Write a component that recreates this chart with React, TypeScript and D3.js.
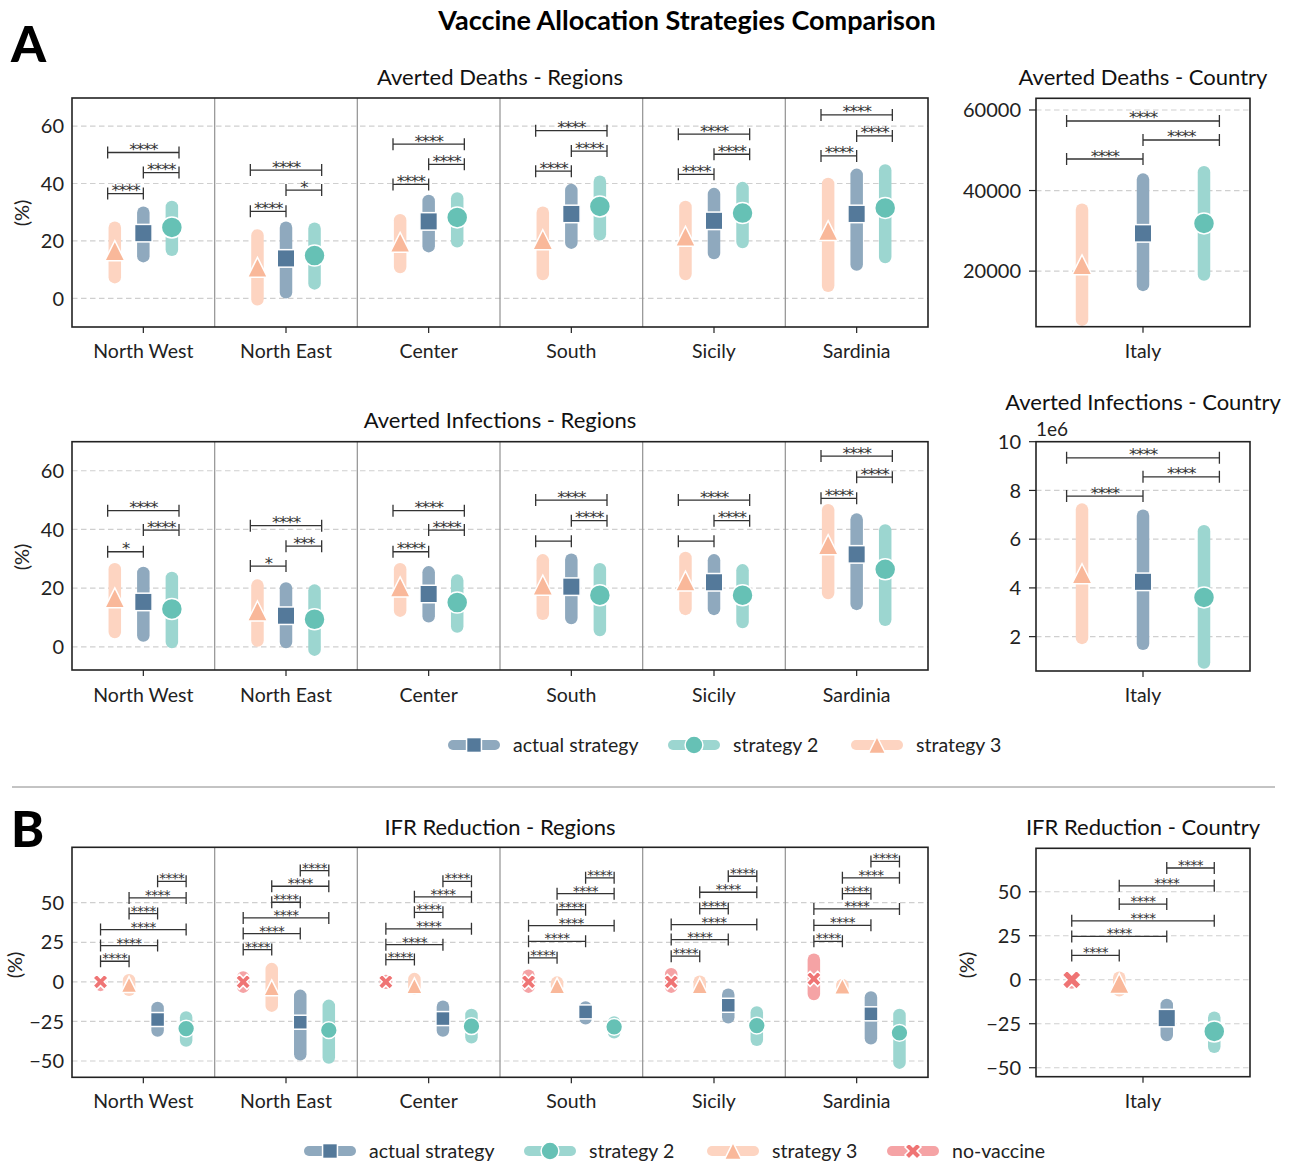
import { useEffect, useRef } from 'react'
import * as d3 from 'd3'

const W = 1297
const H = 1164
const FONT = 'Lato, "Open Sans", "DejaVu Sans", sans-serif'
const STAR_FONT = '"DejaVu Sans", sans-serif'

const REGIONS = ['North West', 'North East', 'Center', 'South', 'Sicily', 'Sardinia']
const COUNTRY = ['Italy']

// ── A: averted deaths by region (%) — [low, median, high] ──────────────────
const DEATHS_REG_ACTUAL = [[12.5, 22.7, 32.0], [-0.1, 13.9, 26.8], [16.0, 26.8, 36.1], [17.2, 29.4, 39.9], [13.6, 27.0, 38.5], [9.6, 29.4, 45.2]]
const DEATHS_REG_S2 = [[14.7, 24.7, 34.0], [3.0, 14.9, 26.4], [17.7, 28.2, 37.0], [20.1, 32.0, 42.8], [17.4, 29.7, 40.6], [12.2, 31.5, 46.7]]
const DEATHS_REG_S3 = [[5.2, 16.6, 26.8], [-2.5, 10.8, 24.1], [8.7, 19.5, 29.4], [6.3, 20.4, 32.0], [6.3, 21.6, 34.0], [2.2, 23.6, 42.0]]
// bracket heights: s3–actual, actual–s2, s3–s2
const DEATHS_REG_BRACKETS = [[36.5, 43.8, 50.8], [30.3, 37.7, 44.7], [39.7, 46.7, 53.7], [44.3, 51.3, 58.4], [43.2, 50.2, 57.2], [49.6, 56.6, 63.9]]
const DEATHS_REG_STARS = [['****', '****', '****'], ['****', '*', '****'], ['****', '****', '****'], ['****', '****', '****'], ['****', '****', '****'], ['****', '****', '****']]

// ── A: averted deaths, Italy ─────────────────────────────────────────────────
const DEATHS_IT_ACTUAL = [[15030, 29370, 44270]]
const DEATHS_IT_S2 = [[17590, 31850, 46090]]
const DEATHS_IT_S3 = [[6400, 21565, 36800]]
const DEATHS_IT_BRACKETS = [[47830, 52550, 57270]]
const DEATHS_IT_STARS = [['****', '****', '****']]

// ── A: averted infections by region (%) ──────────────────────────────────────
const INF_REG_ACTUAL = [[1.7, 15.3, 27.3], [-0.5, 10.6, 22.0], [8.3, 18.0, 27.5], [7.7, 20.5, 31.8], [10.8, 22.0, 31.6], [12.5, 31.5, 45.5]]
const INF_REG_S2 = [[-0.5, 12.9, 25.6], [-3.1, 9.4, 21.3], [4.8, 15.1, 24.7], [3.6, 17.6, 28.6], [6.3, 17.6, 28.2], [7.1, 26.4, 41.8]]
const INF_REG_S3 = [[2.9, 16.7, 28.6], [0, 12.2, 23.0], [10.2, 20.4, 28.6], [9.1, 21.0, 31.6], [10.8, 22.4, 32.4], [16.2, 34.8, 48.7]]
const INF_REG_BRACKETS = [[32.4, 39.8, 46.4], [27.5, 34.3, 41.3], [32.4, 39.8, 46.4], [36.0, 43.0, 50.0], [36.0, 43.0, 50.0], [50.6, 57.8, 65.0]]
const INF_REG_STARS = [['*', '****', '****'], ['*', '***', '****'], ['****', '****', '****'], ['', '****', '****'], ['', '****', '****'], ['****', '****', '****']]

// ── A: averted infections, Italy (×1e6) ─────────────────────────────────────
const INF_IT_ACTUAL = [[1.45, 4.25, 7.22]]
const INF_IT_S2 = [[0.68, 3.61, 6.58]]
const INF_IT_S3 = [[1.69, 4.58, 7.47]]
const INF_IT_BRACKETS = [[7.77, 8.56, 9.34]]
const INF_IT_STARS = [['****', '****', '****']]

// ── B: IFR reduction by region (%) ──────────────────────────────────────────
const IFR_REG_NV = [[-2, 0, 2], [-7, 0, 6.7], [-4.5, 0, 4.5], [-7, 0, 7.8], [-7, 0, 8.8], [-11.6, 1.9, 17.9]]
const IFR_REG_S3 = [[-9, -1.7, 5], [-19, -3.8, 12], [-8, -2.5, 5.7], [-7, -2.5, 3.5], [-7.5, -2.5, 4], [-7.2, -2.8, 1.9]]
const IFR_REG_ACTUAL = [[-34.7, -23.8, -12.6], [-49.7, -25.5, -4.9], [-34.7, -23.2, -11.8], [-27, -19, -12.2], [-26.3, -14.8, -4.2], [-39.6, -20.2, -5.9]]
const IFR_REG_S2 = [[-41, -29.5, -18.5], [-51.8, -30.5, -11.2], [-39, -28, -17], [-35.8, -28.4, -21.7], [-40.6, -27.6, -15.4], [-55, -32.2, -17]]
// bracket heights: nv–s3, nv–actual, nv–s2, s3–actual, s3–s2, actual–s2
const IFR_REG_BRACKETS = [[13.0, 22.9, 33.0, 43.1, 53.0, 63.5], [20.4, 30.5, 40.4, 50.3, 60.4, 70.3], [14.1, 23.5, 33.5, 43.9, 53.7, 63.5], [15.2, 25.6, 35.5, 45.6, 55.7, 65.7], [16.2, 26.7, 36.2, 46.3, 56.6, 66.7], [25.6, 35.7, 46.1, 55.7, 65.7, 76.1]]

// ── B: IFR reduction, Italy ──────────────────────────────────────────────────
const IFR_IT_NV = [[-2, 0, 2]]
const IFR_IT_S3 = [[-9.5, -2.1, 4.7]]
const IFR_IT_ACTUAL = [[-35, -21.8, -10.8]]
const IFR_IT_S2 = [[-41.7, -29.4, -18]]
const IFR_IT_BRACKETS = [[13.8, 24.6, 33.5, 43.0, 53.4, 63.5]]
const IFR_STAR = '****'

const STYLE = {
  actual: { mark: '#54799a', bar: '#8fa9be', shape: 'square', label: 'actual strategy' },
  s2: { mark: '#66c1b5', bar: '#9cd6d0', shape: 'circle', label: 'strategy 2' },
  s3: { mark: '#f9b89a', bar: '#fdd4c1', shape: 'triangle', label: 'strategy 3' },
  nv: { mark: '#ef7474', bar: '#f5a3a5', shape: 'cross', label: 'no-vaccine' },
}

const BAR_W = 12.5
const CAP = 6
const minus = (d) => (d < 0 ? `\u2212${Math.abs(d)}` : `${d}`)

function drawMarker(g, shape, cx, cy, k, fill) {
  const common = (sel) => sel.attr('fill', fill).attr('stroke', 'white').attr('stroke-width', 1.5)
  if (shape === 'circle') {
    common(g.append('circle').attr('cx', cx).attr('cy', cy).attr('r', 10.5 * k))
  } else if (shape === 'square') {
    const h = 8.75 * k
    common(g.append('rect').attr('x', cx - h).attr('y', cy - h).attr('width', 2 * h).attr('height', 2 * h))
  } else if (shape === 'triangle') {
    const h = 10 * k
    common(g.append('path').attr('d', `M${cx},${cy - h}L${cx + h},${cy + h}L${cx - h},${cy + h}Z`))
  } else {
    const s = (20 * k) / 6
    const pts = [[-1, -3], [1, -3], [1, -1], [3, -1], [3, 1], [1, 1], [1, 3], [-1, 3], [-1, 1], [-3, 1], [-3, -1], [-1, -1]]
      .map(([a, b]) => [cx + ((a - b) / Math.SQRT2) * s, cy + ((a + b) / Math.SQRT2) * s])
    common(g.append('path').attr('d', 'M' + pts.map((p) => p.join(',')).join('L') + 'Z'))
  }
}

function drawPanel(svg, p) {
  const x = d3.scaleLinear().domain([-0.5, p.cats.length - 0.5]).range([p.left, p.right])
  const y = d3.scaleLinear().domain(p.domain).range([p.bottom, p.top])
  const g = svg.append('g')

  // ── grid ──
  g.selectAll(null).data(p.ticks.filter((t) => y(t) > p.top + 2)).join('line')
    .attr('x1', p.left).attr('x2', p.right)
    .attr('y1', (d) => y(d)).attr('y2', (d) => y(d))
    .attr('stroke', '#cfcfcf').attr('stroke-width', 1.2).attr('stroke-dasharray', '5.5,3.5')

  // ── category separators ──
  g.selectAll(null).data(d3.range(1, p.cats.length)).join('line')
    .attr('x1', (d) => x(d - 0.5)).attr('x2', (d) => x(d - 0.5))
    .attr('y1', p.top).attr('y2', p.bottom)
    .attr('stroke', '#9a9a9a').attr('stroke-width', 1.3)

  // ── y axis ──
  if (p.yTick) {
    g.selectAll(null).data(p.ticks).join('line')
      .attr('x1', p.left - p.yTick).attr('x2', p.left)
      .attr('y1', (d) => y(d)).attr('y2', (d) => y(d))
      .attr('stroke', '#222').attr('stroke-width', 1.2)
  }
  g.selectAll(null).data(p.ticks).join('text')
    .attr('x', p.left - p.yPad).attr('y', (d) => y(d)).attr('dy', '0.36em')
    .attr('text-anchor', 'end').attr('font-size', 20).attr('fill', '#222')
    .text(p.fmt)

  // ── x axis ──
  g.selectAll(null).data(p.cats).join('line')
    .attr('x1', (_, i) => x(i)).attr('x2', (_, i) => x(i))
    .attr('y1', p.bottom).attr('y2', p.bottom + 6)
    .attr('stroke', '#222').attr('stroke-width', 1.2)
  g.selectAll(null).data(p.cats).join('text')
    .attr('x', (_, i) => x(i)).attr('y', p.labelY)
    .attr('text-anchor', 'middle').attr('font-size', 19.5).attr('fill', '#222')
    .text((d) => d)

  // ── ranges ──
  p.series.forEach((s) => {
    const st = STYLE[s.key]
    s.data.forEach(([lo, , hi], i) => {
      g.append('rect')
        .attr('x', x(i + s.off) - BAR_W / 2).attr('width', BAR_W)
        .attr('y', y(hi)).attr('height', Math.max(BAR_W, y(lo) - y(hi)))
        .attr('rx', BAR_W / 2).attr('fill', st.bar)
    })
  })
  // ── medians ──
  p.series.forEach((s) => {
    const st = STYLE[s.key]
    s.data.forEach(([, med], i) => drawMarker(g, st.shape, x(i + s.off), y(med), p.size, st.mark))
  })

  // ── significance brackets ──
  p.bh.forEach((hs, i) => hs.forEach((h, j) => {
    const [a, b] = p.pairs[j]
    const xa = x(i + p.bOff[a])
    const xb = x(i + p.bOff[b])
    const yy = y(h)
    g.append('path')
      .attr('d', `M${xa},${yy - CAP}V${yy + CAP}M${xa},${yy}H${xb}M${xb},${yy - CAP}V${yy + CAP}`)
      .attr('fill', 'none').attr('stroke', '#333').attr('stroke-width', 1.3)
    const label = p.stars(i, j)
    if (label) {
      g.append('text')
        .attr('x', (xa + xb) / 2).attr('y', yy + p.starDy)
        .attr('text-anchor', 'middle').attr('font-family', STAR_FONT)
        .attr('font-size', p.starSize).attr('letter-spacing', p.starGap).attr('fill', '#333')
        .text(label)
    }
  }))

  // ── frame ──
  g.append('rect')
    .attr('x', p.left).attr('y', p.top)
    .attr('width', p.right - p.left).attr('height', p.bottom - p.top)
    .attr('fill', 'none').attr('stroke', '#222').attr('stroke-width', 1.6)

  // ── titles ──
  g.append('text')
    .attr('x', (p.left + p.right) / 2).attr('y', p.titleY)
    .attr('text-anchor', 'middle').attr('font-size', 22).attr('fill', '#111')
    .text(p.title)
  if (p.ylabel) {
    g.append('text')
      .attr('transform', `translate(${p.ylabel[0]},${p.ylabel[1]}) rotate(-90)`)
      .attr('dy', '0.36em').attr('text-anchor', 'middle')
      .attr('font-size', 20).attr('fill', '#222')
      .text('(%)')
  }
}

function drawLegend(svg, items, cy) {
  items.forEach(([key, cx]) => {
    const st = STYLE[key]
    svg.append('rect')
      .attr('x', cx - 26).attr('y', cy - 5).attr('width', 52).attr('height', 10)
      .attr('rx', 5).attr('fill', st.bar)
    drawMarker(svg, st.shape, cx, cy, 0.85, st.mark)
    svg.append('text')
      .attr('x', cx + 39).attr('y', cy).attr('dy', '0.36em')
      .attr('font-size', 19.5).attr('fill', '#222')
      .text(st.label)
  })
}

const A_PAIRS = [['s3', 'actual'], ['actual', 's2'], ['s3', 's2']]
const B_PAIRS = [['nv', 's3'], ['nv', 'actual'], ['nv', 's2'], ['s3', 'actual'], ['s3', 's2'], ['actual', 's2']]

export default function App() {
  const svgRef = useRef(null)

  useEffect(() => {
    const svg = d3.select(svgRef.current)
    svg.selectAll('*').remove()

    const starsA = { starSize: 16.5, starGap: -1.2, starDy: 2.5 }
    const starsB = { starSize: 13.5, starGap: -0.5, starDy: 2 }
    const regA = { left: 72, right: 928, cats: REGIONS, yTick: 0, yPad: 8, size: 1, ...starsA, pairs: A_PAIRS, bOff: { s3: -0.25, actual: 0, s2: 0.25 } }
    const itA = { left: 1036, right: 1250, cats: COUNTRY, yTick: 7, yPad: 15, size: 1, ...starsA, pairs: A_PAIRS, bOff: { s3: -0.357, actual: 0, s2: 0.357 } }

    drawPanel(svg, {
      ...regA, top: 98, bottom: 327, domain: [-10, 69.8], ticks: [0, 20, 40, 60], fmt: (d) => `${d}`,
      series: [{ key: 's3', off: -0.2, data: DEATHS_REG_S3 }, { key: 'actual', off: 0, data: DEATHS_REG_ACTUAL }, { key: 's2', off: 0.2, data: DEATHS_REG_S2 }],
      bh: DEATHS_REG_BRACKETS, stars: (i, j) => DEATHS_REG_STARS[i][j],
      title: 'Averted Deaths - Regions', titleY: 85, labelY: 358, ylabel: [22, 213],
    })
    drawPanel(svg, {
      ...itA, top: 98.3, bottom: 326.7, domain: [6200, 62900], ticks: [20000, 40000, 60000], fmt: (d) => `${d}`,
      series: [{ key: 's3', off: -0.285, data: DEATHS_IT_S3 }, { key: 'actual', off: 0, data: DEATHS_IT_ACTUAL }, { key: 's2', off: 0.285, data: DEATHS_IT_S2 }],
      bh: DEATHS_IT_BRACKETS, stars: (i, j) => DEATHS_IT_STARS[i][j],
      title: 'Averted Deaths - Country', titleY: 85, labelY: 358,
    })
    drawPanel(svg, {
      ...regA, top: 441.7, bottom: 670, domain: [-7.9, 69.9], ticks: [0, 20, 40, 60], fmt: (d) => `${d}`,
      series: [{ key: 's3', off: -0.2, data: INF_REG_S3 }, { key: 'actual', off: 0, data: INF_REG_ACTUAL }, { key: 's2', off: 0.2, data: INF_REG_S2 }],
      bh: INF_REG_BRACKETS, stars: (i, j) => INF_REG_STARS[i][j],
      title: 'Averted Infections - Regions', titleY: 428, labelY: 702, ylabel: [22, 557],
    })
    drawPanel(svg, {
      ...itA, top: 441.7, bottom: 671, domain: [0.59, 10], ticks: [2, 4, 6, 8, 10], fmt: (d) => `${d}`,
      series: [{ key: 's3', off: -0.285, data: INF_IT_S3 }, { key: 'actual', off: 0, data: INF_IT_ACTUAL }, { key: 's2', off: 0.285, data: INF_IT_S2 }],
      bh: INF_IT_BRACKETS, stars: (i, j) => INF_IT_STARS[i][j],
      title: 'Averted Infections - Country', titleY: 410, labelY: 702,
    })
    svg.append('text').attr('x', 1036).attr('y', 436).attr('font-size', 19).attr('fill', '#222').text('1e6')

    drawPanel(svg, {
      ...regA, ...starsB, top: 847.3, bottom: 1077.3, domain: [-60.3, 85], ticks: [-50, -25, 0, 25, 50], fmt: minus,
      size: 0.8, pairs: B_PAIRS, bOff: { nv: -0.3, s3: -0.1, actual: 0.1, s2: 0.3 },
      series: [{ key: 'nv', off: -0.3, data: IFR_REG_NV }, { key: 's3', off: -0.1, data: IFR_REG_S3 }, { key: 'actual', off: 0.1, data: IFR_REG_ACTUAL }, { key: 's2', off: 0.3, data: IFR_REG_S2 }],
      bh: IFR_REG_BRACKETS, stars: () => IFR_STAR,
      title: 'IFR Reduction - Regions', titleY: 835, labelY: 1108, ylabel: [15, 965],
    })
    drawPanel(svg, {
      ...itA, ...starsB, top: 848.3, bottom: 1076.7, domain: [-55.1, 74.7], ticks: [-50, -25, 0, 25, 50], fmt: minus,
      pairs: B_PAIRS, bOff: { nv: -0.333, s3: -0.111, actual: 0.111, s2: 0.333 },
      series: [{ key: 'nv', off: -0.333, data: IFR_IT_NV }, { key: 's3', off: -0.111, data: IFR_IT_S3 }, { key: 'actual', off: 0.111, data: IFR_IT_ACTUAL }, { key: 's2', off: 0.333, data: IFR_IT_S2 }],
      bh: IFR_IT_BRACKETS, stars: () => IFR_STAR,
      title: 'IFR Reduction - Country', titleY: 835, labelY: 1108, ylabel: [967, 965],
    })

    // ── legends ──
    drawLegend(svg, [['actual', 474], ['s2', 694], ['s3', 877]], 745)
    drawLegend(svg, [['actual', 330], ['s2', 550], ['s3', 733], ['nv', 913]], 1151)

    // ── headings ──
    svg.append('text').attr('x', 687).attr('y', 30).attr('text-anchor', 'middle')
      .attr('font-size', 27).attr('font-weight', 700).attr('fill', '#000')
      .text('Vaccine Allocation Strategies Comparison')
    svg.append('text').attr('x', 11).attr('y', 62).attr('font-size', 50).attr('font-weight', 900).attr('fill', '#000').text('A')
    svg.append('text').attr('x', 11).attr('y', 847).attr('font-size', 50).attr('font-weight', 900).attr('fill', '#000').text('B')
    svg.append('line').attr('x1', 12).attr('x2', 1275).attr('y1', 787).attr('y2', 787)
      .attr('stroke', '#888').attr('stroke-width', 1)
  }, [])

  return (
    <svg
      ref={svgRef}
      width={W}
      height={H}
      fontFamily={FONT}
      style={{ position: 'absolute', left: 0, top: 0, background: 'white', display: 'block' }}
    />
  )
}
